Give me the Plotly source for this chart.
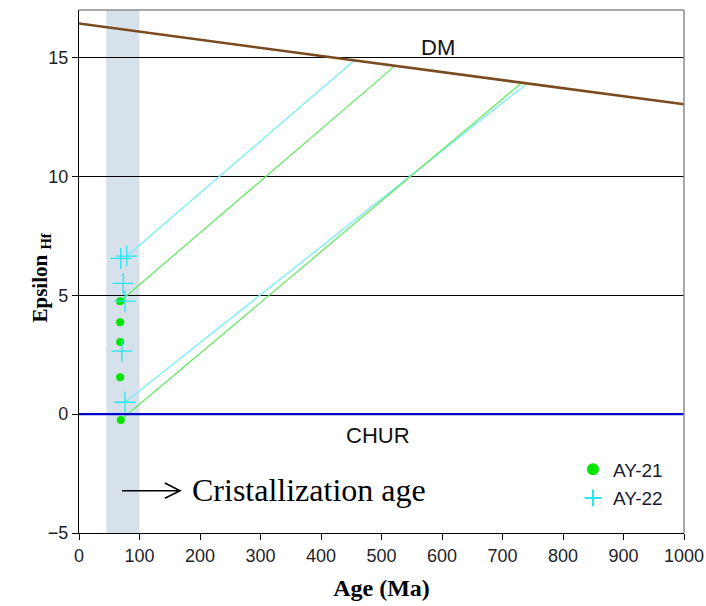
import plotly.graph_objects as go

# --- data ---------------------------------------------------------------
# AY-21 zircons (age in Ma, epsilon Hf)
ay21_age = [68, 68, 68, 68, 69]
ay21_eps = [4.75, 3.87, 3.03, 1.55, -0.25]

# AY-22 zircons
ay22_age = [69, 79, 73, 76, 71, 76]
ay22_eps = [6.55, 6.65, 5.5, 4.75, 2.65, 0.5]

# Depleted mantle reference line (endpoints)
dm_age = [0, 1000]
dm_eps = [16.43, 13.03]

# Two-stage evolution lines: start (crystallisation) and end (on DM)
ay21_line_start_age = [68, 69]
ay21_line_start_eps = [4.75, -0.25]
ay21_line_end_age = [522, 732]
ay21_line_end_eps = [14.65, 13.94]

ay22_line_start_age = [79, 76]
ay22_line_start_eps = [6.65, 0.5]
ay22_line_end_age = [455, 740]
ay22_line_end_eps = [14.88, 13.9]

# Crystallisation age window
cryst_window = [45, 100]

x_ticks = list(range(0, 1001, 100))
y_ticks = [-5, 0, 5, 10, 15]

GREEN = "#00e600"
GREEN_LINE = "#66e866"
CYAN = "#22e6f0"
CYAN_LINE = "#77eef6"
SANS = "Liberation Sans, Arial, sans-serif"
SERIF = "Liberation Serif, Times New Roman, serif"
TICK_COLOR = "#1e1e2a"

fig = go.Figure()

# evolution lines
for xs, ys, xe, ye in zip(ay22_line_start_age, ay22_line_start_eps,
                          ay22_line_end_age, ay22_line_end_eps):
    fig.add_trace(go.Scatter(x=[xs, xe], y=[ys, ye], mode="lines",
                             line=dict(color=CYAN_LINE, width=1.3),
                             showlegend=False, hoverinfo="skip"))
for xs, ys, xe, ye in zip(ay21_line_start_age, ay21_line_start_eps,
                          ay21_line_end_age, ay21_line_end_eps):
    fig.add_trace(go.Scatter(x=[xs, xe], y=[ys, ye], mode="lines",
                             line=dict(color=GREEN_LINE, width=1.3),
                             showlegend=False, hoverinfo="skip"))

# CHUR
fig.add_trace(go.Scatter(x=[0, 1000], y=[0, 0], mode="lines",
                         line=dict(color="#0000cc", width=2.2),
                         showlegend=False, hoverinfo="skip"))
# DM
fig.add_trace(go.Scatter(x=dm_age, y=dm_eps, mode="lines",
                         line=dict(color="#7b4a1e", width=2.5),
                         showlegend=False, hoverinfo="skip"))

# samples
fig.add_trace(go.Scatter(x=ay21_age, y=ay21_eps, mode="markers", name="AY-21",
                         legendgroup="a",
                         marker=dict(color=GREEN, size=8, symbol="circle")))
fig.add_trace(go.Scatter(x=ay22_age, y=ay22_eps, mode="markers", name="AY-22",
                         legendgroup="b",
                         marker=dict(color=CYAN, size=15, symbol="cross-thin-open",
                                     line=dict(color=CYAN, width=1.3))))

# crystallisation window band
fig.add_shape(type="rect", xref="x", yref="paper",
              x0=cryst_window[0], x1=cryst_window[1], y0=0, y1=1,
              fillcolor="#d7e1ec", line=dict(width=0), layer="below")

# plot frame (top/right grey)
fig.add_shape(type="line", xref="paper", yref="paper", x0=0, x1=1, y0=1, y1=1,
              line=dict(color="#8c8c8c", width=1.5))
fig.add_shape(type="line", xref="paper", yref="paper", x0=1, x1=1, y0=0, y1=1,
              line=dict(color="#8c8c8c", width=1.5))

# arrow pointing to the crystallisation label
fig.add_shape(type="path", xref="x", yref="y",
              path="M 71,-3.22 L 167,-3.22 M 142,-2.9 L 167,-3.22 L 142,-3.54",
              line=dict(color="#000", width=1.6))

# labels
fig.add_annotation(x=593, y=15, text="DM", showarrow=False, yanchor="bottom",
                   yshift=-4, font=dict(family=SANS, size=22, color="#111"))
fig.add_annotation(x=494, y=0, text="CHUR", showarrow=False, yanchor="top",
                   yshift=-7, font=dict(family=SANS, size=22, color="#111"))
fig.add_annotation(x=183, y=-3.2, text="Cristallization age", showarrow=False,
                   xanchor="left", font=dict(family=SERIF, size=32, color="#000"))
fig.add_annotation(xref="paper", yref="paper", x=-0.088, y=0.488,
                   text="<b>Epsilon <sub>Hf</sub></b>", textangle=-90,
                   showarrow=False, font=dict(family=SERIF, size=21, color="#000"))

fig.update_layout(
    width=706, height=606,
    margin=dict(l=79, r=22, t=10, b=73, autoexpand=False),
    paper_bgcolor="white", plot_bgcolor="white",
    showlegend=True,
    legend=dict(x=0.8165, y=0.158, xanchor="left", yanchor="top",
                font=dict(family=SANS, size=19, color="#1a1a2e"),
                bgcolor="rgba(0,0,0,0)", itemsizing="constant",
                tracegroupgap=1),
    xaxis=dict(range=[0, 1000], tickvals=x_ticks, showgrid=False, zeroline=False,
               automargin=False,
               showline=True, linecolor="#000", linewidth=1.2,
               ticks="outside", ticklen=6, tickcolor="#000",
               tickfont=dict(family=SANS, size=18, color=TICK_COLOR),
               title=dict(text="<b>Age (Ma)</b>", standoff=14,
                          font=dict(family=SERIF, size=24, color="#000"))),
    yaxis=dict(range=[-5, 17.0], tickvals=y_ticks, showgrid=True,
               automargin=False,
               gridcolor="#000", gridwidth=1, zeroline=False,
               showline=True, linecolor="#000", linewidth=1.2,
               ticks="outside", ticklen=6, tickcolor="#000",
               tickfont=dict(family=SANS, size=18, color=TICK_COLOR)),
)

fig.write_html("out.html")
